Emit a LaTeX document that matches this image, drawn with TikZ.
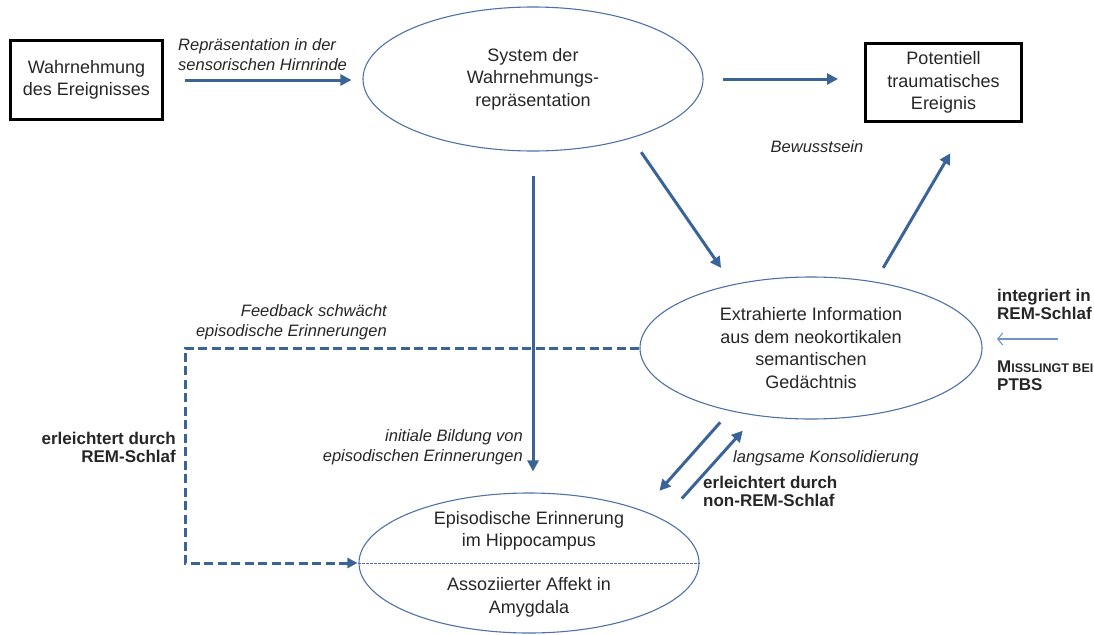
\documentclass[tikz,border=0pt]{standalone}
\usepackage{fontspec}
\setmainfont{Liberation Sans}
\usetikzlibrary{arrows.meta,shapes.geometric}
\definecolor{cArr}{HTML}{3A6497}
\definecolor{cEll}{HTML}{4E72A6}
\definecolor{cThin}{HTML}{6F93C6}
\definecolor{cTxt}{HTML}{262626}
\tikzset{
  arr/.style={line width=3pt, cArr, -{Triangle[length=11pt,width=11pt]}},
  fbarr/.style={line width=3pt, cArr, dash pattern=on 9pt off 4.5pt, -{Triangle[length=10pt,width=10pt]}},
  thinarr/.style={cThin, line width=1.1pt, -{Straight Barb[length=5pt,width=12pt]}},
  ell/.style={ellipse, draw=cEll, line width=1.1pt, inner sep=0pt},
  evbox/.style={rectangle, draw=black, line width=3pt, inner sep=0pt},
  divl/.style={cEll, line width=0.8pt, dash pattern=on 2.5pt off 1.5pt},
  mtxt/.style={align=center, text=cTxt, font=\fontsize{18}{22.5}\selectfont},
  lblI/.style={inner sep=0pt, text=cTxt, font=\fontsize{16.5}{19.5}\selectfont\itshape},
  lblB/.style={inner sep=0pt, text=cTxt, font=\fontsize{17}{18}\selectfont\bfseries},
}

\begin{document}
\begin{tikzpicture}[x=1pt, y=-1pt]
\useasboundingbox (0,0) rectangle (1094,634);
\node[evbox, mtxt, minimum width=152pt, minimum height=79pt] (wahr) at (86.5,80) {Wahrnehmung\\des Ereignisses};
\node[ell, mtxt, minimum width=340pt, minimum height=144pt] (sys) at (533,79) {System der\\Wahrnehmungs-\\repräsentation};
\node[evbox, mtxt, minimum width=156pt, minimum height=78pt] (pte) at (943.5,82.5) {Potentiell\\traumatisches\\Ereignis};
\node[ell, mtxt, minimum width=342pt, minimum height=142pt] (ext) at (811,348) {Extrahierte Information\\aus dem neokortikalen\\semantischen\\Gedächtnis};
\node[ell, minimum width=340pt, minimum height=140pt] (epi) at (529,563) {};
\node[mtxt] (epiT) at (529,531) {Episodische Erinnerung\\im Hippocampus};
\node[mtxt] (epiB) at (529,597.5) {Assoziierter Affekt in\\Amygdala};
\draw[divl] (epi.west) -- (epi.east);

\node[lblI, anchor=west, align=left] (repr) at (178,54.5) {Repräsentation in der\\sensorischen Hirnrinde};
\node[lblI] (bew) at (817,147) {Bewusstsein};
\node[lblI, anchor=east, align=right] (fbk) at (387,322) {Feedback schwächt\\episodische Erinnerungen};
\node[lblI, anchor=east, align=right] (init) at (523,447) {initiale Bildung von\\episodischen Erinnerungen};
\node[lblI, anchor=west] (kons) at (733,458) {langsame Konsolidierung};
\node[lblB, anchor=east, align=right] (remL) at (176,447) {erleichtert durch\\REM-Schlaf};
\node[lblB, anchor=west, align=left] (nrem) at (703,491) {erleichtert durch\\non-REM-Schlaf};
\node[lblB, anchor=west, align=left] (integ) at (997,304) {integriert in\\REM-Schlaf};
\node[lblB, anchor=west, align=left] (miss) at (997,376) {M{\fontsize{12.5}{18}\selectfont ISSLINGT BEI}\\PTBS};

\coordinate (bend) at (185,0);
\coordinate (remS) at (1058,339);
\coordinate (remE) at (997,339);

\draw[arr, shorten <=21pt, shorten >=11pt] (wahr.east) -- (wahr.east -| sys.west);
\draw[arr, shorten <=19pt, shorten >=26pt] (sys.east) -- (sys.east -| pte.west);
\draw[arr, shorten <=17pt, shorten >=20pt] (sys.-31) -- (ext.141);
\draw[arr, shorten <=16pt, shorten >=35pt] (ext.46.5) -- ([xshift=24.5pt]pte.south);
\draw[fbarr, shorten >=1pt] (ext.west) -- (ext.west -| bend) |- (epi.west);
\draw[arr, shorten <=24pt, shorten >=21pt] (sys.south) -- (sys.south |- epi.north);
\draw[arr, shorten <=15pt, shorten >=26pt] (ext.-142) -- (epi.25);
\draw[arr, shorten <=28pt, shorten >=20pt] (epi.18) -- (ext.-129);
\draw[thinarr] (remS) -- (remE);
\end{tikzpicture}
\end{document}
